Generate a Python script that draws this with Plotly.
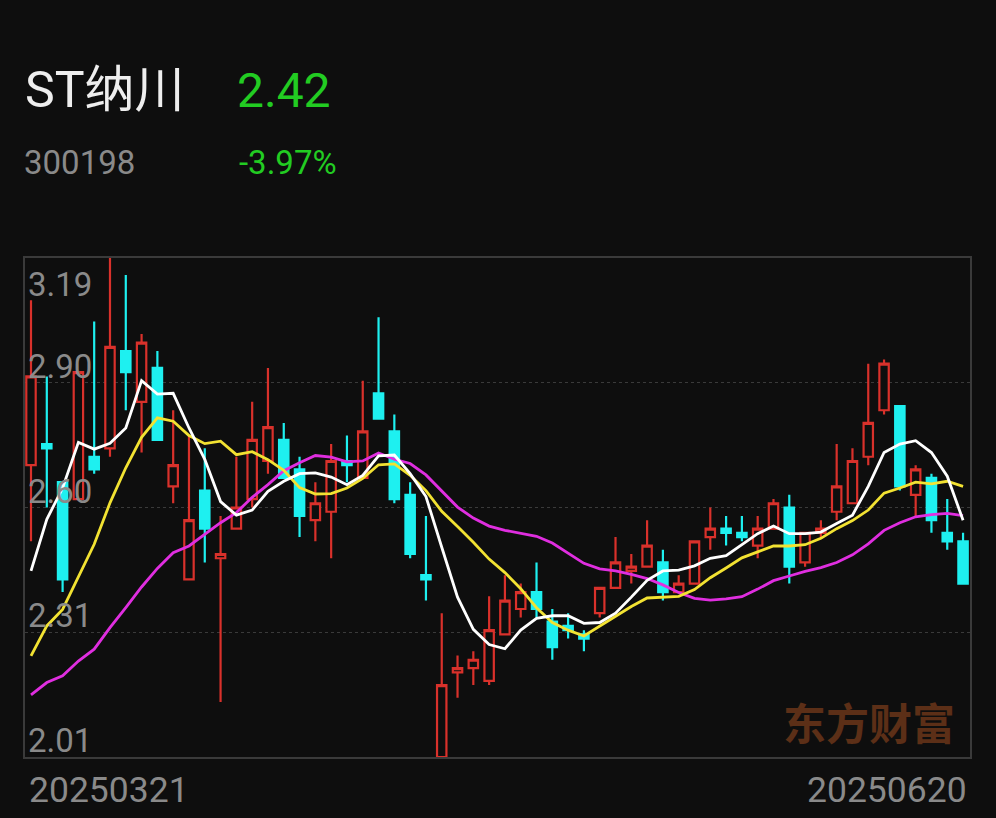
import plotly.graph_objects as go

# ---------------- data ----------------
stock_name = "ST纳川"
stock_code = "300198"
last_price = "2.42"
last_change = "-3.97%"
date_labels = ["20250321", "20250620"]
y_tick_labels = ["3.19", "2.90", "2.60", "2.31", "2.01"]

open_ = [2.70, 2.75, 2.66, 2.62, 2.72, 2.74, 2.97, 2.85, 2.93, 2.65,
         2.43, 2.64, 2.48, 2.55, 2.62, 2.71, 2.76, 2.69, 2.57, 2.59,
         2.71, 2.67, 2.87, 2.78, 2.63, 2.44, 2.01, 2.21, 2.22, 2.19,
         2.30, 2.36, 2.40, 2.33, 2.32, 2.30, 2.35, 2.41, 2.45, 2.46,
         2.47, 2.40, 2.42, 2.53, 2.55, 2.54, 2.51, 2.55, 2.60, 2.47,
         2.54, 2.59, 2.61, 2.72, 2.83, 2.84, 2.63, 2.67, 2.54, 2.52]
high = [3.09, 2.91, 2.66, 2.92, 3.04, 3.19, 3.15, 3.01, 2.97, 2.83,
        2.77, 2.74, 2.58, 2.72, 2.85, 2.93, 2.80, 2.72, 2.66, 2.75,
        2.77, 2.90, 3.05, 2.82, 2.66, 2.58, 2.35, 2.25, 2.26, 2.39,
        2.44, 2.42, 2.47, 2.36, 2.35, 2.31, 2.41, 2.53, 2.49, 2.57,
        2.50, 2.44, 2.52, 2.60, 2.58, 2.58, 2.58, 2.62, 2.63, 2.54,
        2.57, 2.75, 2.74, 2.94, 2.95, 2.84, 2.70, 2.68, 2.62, 2.54]
low = [2.52, 2.60, 2.40, 2.62, 2.68, 2.72, 2.83, 2.73, 2.76, 2.61,
       2.43, 2.47, 2.14, 2.55, 2.60, 2.68, 2.67, 2.53, 2.52, 2.48,
       2.66, 2.67, 2.81, 2.61, 2.48, 2.38, 2.01, 2.15, 2.18, 2.18,
       2.30, 2.34, 2.34, 2.24, 2.29, 2.26, 2.34, 2.41, 2.42, 2.46,
       2.38, 2.40, 2.42, 2.50, 2.51, 2.52, 2.48, 2.55, 2.42, 2.46,
       2.53, 2.57, 2.61, 2.70, 2.82, 2.64, 2.58, 2.54, 2.50, 2.42]
close = [2.91, 2.74, 2.43, 2.92, 2.69, 2.98, 2.92, 2.99, 2.76, 2.70,
         2.57, 2.55, 2.49, 2.60, 2.76, 2.79, 2.67, 2.58, 2.61, 2.71,
         2.70, 2.78, 2.81, 2.62, 2.49, 2.43, 2.18, 2.22, 2.24, 2.31,
         2.38, 2.40, 2.36, 2.27, 2.31, 2.29, 2.41, 2.47, 2.46, 2.51,
         2.40, 2.42, 2.52, 2.55, 2.54, 2.53, 2.55, 2.61, 2.46, 2.54,
         2.55, 2.65, 2.71, 2.80, 2.94, 2.65, 2.69, 2.57, 2.52, 2.42]

ma5 = [2.450, 2.572, 2.646, 2.754, 2.738, 2.752, 2.788, 2.900, 2.868, 2.870,
       2.788, 2.714, 2.614, 2.582, 2.594, 2.638, 2.662, 2.680, 2.682, 2.672,
       2.654, 2.676, 2.722, 2.724, 2.680, 2.626, 2.506, 2.388, 2.312, 2.276,
       2.266, 2.310, 2.338, 2.344, 2.344, 2.326, 2.328, 2.350, 2.388, 2.428,
       2.450, 2.452, 2.462, 2.480, 2.486, 2.512, 2.538, 2.556, 2.538, 2.538,
       2.542, 2.562, 2.582, 2.650, 2.730, 2.750, 2.758, 2.730, 2.674, 2.570]
ma10 = [2.249, 2.320, 2.359, 2.438, 2.513, 2.611, 2.694, 2.766, 2.812, 2.804,
        2.770, 2.751, 2.757, 2.725, 2.732, 2.713, 2.688, 2.647, 2.632, 2.633,
        2.646, 2.669, 2.701, 2.703, 2.676, 2.640, 2.591, 2.555, 2.518, 2.478,
        2.446, 2.408, 2.363, 2.328, 2.310, 2.296, 2.319, 2.344, 2.366, 2.386,
        2.388, 2.390, 2.406, 2.434, 2.457, 2.481, 2.495, 2.509, 2.509, 2.512,
        2.527, 2.550, 2.569, 2.594, 2.634, 2.646, 2.660, 2.656, 2.662, 2.650]
ma20 = [2.157, 2.186, 2.202, 2.237, 2.265, 2.316, 2.363, 2.412, 2.456, 2.493,
        2.509, 2.536, 2.564, 2.588, 2.624, 2.654, 2.687, 2.706, 2.723, 2.719,
        2.708, 2.710, 2.729, 2.714, 2.704, 2.677, 2.640, 2.601, 2.575, 2.556,
        2.546, 2.539, 2.532, 2.516, 2.493, 2.468, 2.455, 2.450, 2.442, 2.432,
        2.417, 2.399, 2.385, 2.381, 2.384, 2.389, 2.407, 2.427, 2.438, 2.449,
        2.458, 2.470, 2.488, 2.514, 2.546, 2.564, 2.578, 2.583, 2.586, 2.581]

# ---------------- styling ----------------
BG = "#0e0e0e"
RED = "#d9312b"
CYAN = "#1ef0f0"
GREEN = "#22cc22"
GRAY = "#8a8a8a"
W, H = 996, 818
L, R, T, B = 25, 970, 258, 757

x = list(range(len(close)))
ymin = float(y_tick_labels[-1])
ymax = float(y_tick_labels[0])

fig = go.Figure()
fig.add_trace(go.Candlestick(
    x=x, open=open_, high=high, low=low, close=close,
    increasing=dict(line=dict(color=RED, width=2.2), fillcolor=BG),
    decreasing=dict(line=dict(color=CYAN, width=2.2), fillcolor=CYAN),
    hoverinfo="skip", showlegend=False,
))
for vals, col in [(ma20, "#e02ee0"), (ma10, "#f2e232"), (ma5, "#ffffff")]:
    fig.add_trace(go.Scatter(x=x, y=vals, mode="lines",
                             line=dict(color=col, width=2.8),
                             hoverinfo="skip", showlegend=False))

step = (ymax - ymin) / 4
grid_vals = [ymin + k * step for k in range(1, 4)]

def px_x(p):
    return (p - L) / (R - L)

def px_y(p):
    return (B - p) / (B - T)

ann = []
for i, lab in enumerate(y_tick_labels):
    v = ymax - i * step
    ann.append(dict(x=0, xref="paper", y=v, yref="y", text=lab, showarrow=False,
                    xanchor="left", yanchor="top" if i == 0 else "bottom",
                    xshift=1, yshift=(-5 if i == 0 else -5),
                    font=dict(family="Roboto", size=33, color=GRAY)))
ann.append(dict(x=px_x(23), y=px_y(90), xref="paper", yref="paper", text=stock_name,
                showarrow=False, xanchor="left", yanchor="middle",
                font=dict(family="Roboto, Noto Sans CJK SC", size=50, color="#eeeeee")))
ann.append(dict(x=px_x(235), y=px_y(90), xref="paper", yref="paper", text=last_price,
                showarrow=False, xanchor="left", yanchor="middle",
                font=dict(family="Roboto", size=48, color=GREEN)))
ann.append(dict(x=px_x(22), y=px_y(162), xref="paper", yref="paper", text=stock_code,
                showarrow=False, xanchor="left", yanchor="middle",
                font=dict(family="Roboto", size=33, color=GRAY)))
ann.append(dict(x=px_x(237), y=px_y(162), xref="paper", yref="paper", text=last_change,
                showarrow=False, xanchor="left", yanchor="middle",
                font=dict(family="Roboto", size=33, color=GREEN)))
ann.append(dict(x=px_x(27), y=px_y(790), xref="paper", yref="paper", text=date_labels[0],
                showarrow=False, xanchor="left", yanchor="middle",
                font=dict(family="Roboto", size=35.5, color=GRAY)))
ann.append(dict(x=px_x(969), y=px_y(790), xref="paper", yref="paper", text=date_labels[1],
                showarrow=False, xanchor="right", yanchor="middle",
                font=dict(family="Roboto", size=35.5, color=GRAY)))
ann.append(dict(x=px_x(869), y=px_y(721), xref="paper", yref="paper", text="<b>东方财富</b>",
                showarrow=False, xanchor="center", yanchor="middle",
                font=dict(family="Noto Sans CJK SC", size=43, color="#5c2f17")))

fig.update_layout(
    width=W, height=H,
    margin=dict(l=L, r=W - R, t=T, b=H - B),
    paper_bgcolor=BG, plot_bgcolor=BG,
    showlegend=False, hovermode=False,
    boxgap=0.15,
    annotations=ann,
)
fig.update_xaxes(range=[-0.38, len(close) - 1 + 0.44], showgrid=False, zeroline=False,
                 showticklabels=False, ticks="", rangeslider=dict(visible=False),
                 showline=True, mirror=True, linecolor="#3a3a3a", linewidth=2)
fig.update_yaxes(range=[ymin, ymax], tickvals=grid_vals, showticklabels=False, ticks="",
                 showgrid=True, gridcolor="#3a3a3a", griddash="dot", gridwidth=1,
                 zeroline=False, showline=True, mirror=True, linecolor="#3a3a3a", linewidth=2)

fig.write_html("out.html", config={"displayModeBar": False},
               post_script="document.body.style.margin='0';"
                           "document.body.style.background='#0e0e0e';")
